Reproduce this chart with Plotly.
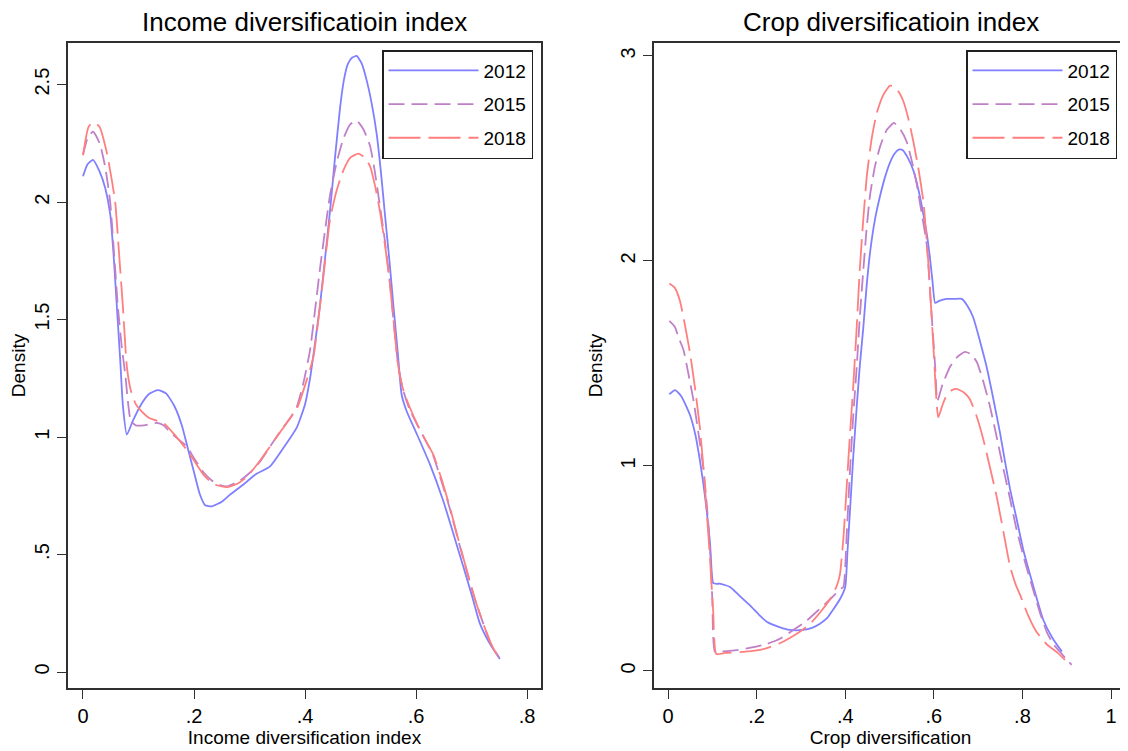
import plotly.graph_objects as go

# ---------------- data ----------------
years = ["2012", "2015", "2018"]

inc_x_2012 = [0.0, 0.008, 0.018, 0.03, 0.04, 0.049, 0.055, 0.061, 0.067, 0.072, 0.079, 0.09, 0.105, 0.12, 0.135, 0.15, 0.165, 0.178, 0.189, 0.2, 0.21, 0.22, 0.232, 0.25, 0.265, 0.29, 0.31, 0.337, 0.36, 0.385, 0.40, 0.409, 0.418, 0.427, 0.436, 0.445, 0.454, 0.463, 0.47, 0.477, 0.485, 0.493, 0.502, 0.511, 0.52, 0.529, 0.537, 0.544, 0.552, 0.559, 0.567, 0.574, 0.583, 0.60, 0.625, 0.649, 0.667, 0.685, 0.70, 0.715, 0.733, 0.751]
inc_y_2012 = [2.11, 2.16, 2.18, 2.13, 2.06, 1.95, 1.78, 1.555, 1.33, 1.13, 1.01, 1.07, 1.14, 1.185, 1.20, 1.185, 1.13, 1.05, 0.95, 0.85, 0.76, 0.71, 0.705, 0.725, 0.755, 0.80, 0.84, 0.875, 0.95, 1.04, 1.14, 1.25, 1.40, 1.563, 1.76, 1.963, 2.19, 2.40, 2.52, 2.587, 2.615, 2.622, 2.59, 2.518, 2.42, 2.29, 2.12, 1.944, 1.75, 1.563, 1.36, 1.18, 1.11, 1.02, 0.884, 0.728, 0.59, 0.449, 0.33, 0.206, 0.12, 0.055]

inc_x_2015 = [0.0, 0.008, 0.018, 0.03, 0.04, 0.049, 0.056, 0.063, 0.07, 0.076, 0.081, 0.086, 0.095, 0.11, 0.133, 0.145, 0.157, 0.172, 0.187, 0.2, 0.217, 0.232, 0.247, 0.26, 0.283, 0.301, 0.319, 0.337, 0.355, 0.37, 0.385, 0.397, 0.409, 0.418, 0.427, 0.436, 0.445, 0.457, 0.469, 0.481, 0.493, 0.505, 0.517, 0.525, 0.532, 0.543, 0.553, 0.56, 0.568, 0.577, 0.588, 0.601, 0.616, 0.631, 0.646, 0.661, 0.676, 0.691, 0.706, 0.721, 0.735, 0.75]
inc_y_2015 = [2.20, 2.27, 2.30, 2.25, 2.15, 2.0, 1.78, 1.55, 1.38, 1.27, 1.15, 1.07, 1.05, 1.05, 1.06, 1.05, 1.02, 0.99, 0.96, 0.91, 0.85, 0.815, 0.795, 0.79, 0.815, 0.849, 0.896, 0.96, 1.023, 1.07, 1.128, 1.23, 1.37, 1.54, 1.718, 1.88, 2.03, 2.17, 2.27, 2.33, 2.347, 2.31, 2.24, 2.14, 2.03, 1.85, 1.65, 1.48, 1.30, 1.197, 1.12, 1.057, 0.99, 0.92, 0.81, 0.694, 0.56, 0.432, 0.31, 0.206, 0.12, 0.06]

inc_x_2018 = [0.0, 0.01, 0.019, 0.03, 0.042, 0.05, 0.058, 0.065, 0.072, 0.079, 0.086, 0.095, 0.103, 0.12, 0.145, 0.165, 0.187, 0.2, 0.217, 0.235, 0.259, 0.277, 0.295, 0.319, 0.337, 0.355, 0.37, 0.385, 0.40, 0.415, 0.424, 0.433, 0.445, 0.457, 0.469, 0.482, 0.496, 0.507, 0.517, 0.526, 0.535, 0.545, 0.553, 0.56, 0.568, 0.577, 0.588, 0.601, 0.616, 0.631, 0.646, 0.661, 0.676, 0.691, 0.706, 0.721, 0.735, 0.75]
inc_y_2018 = [2.20, 2.32, 2.34, 2.32, 2.22, 2.12, 2.0, 1.78, 1.55, 1.30, 1.20, 1.14, 1.116, 1.08, 1.06, 1.01, 0.945, 0.90, 0.84, 0.80, 0.787, 0.80, 0.83, 0.90, 0.96, 1.02, 1.07, 1.12, 1.22, 1.34, 1.50, 1.684, 1.927, 2.05, 2.135, 2.19, 2.206, 2.19, 2.153, 2.07, 1.96, 1.80, 1.65, 1.48, 1.30, 1.20, 1.13, 1.06, 0.99, 0.925, 0.82, 0.70, 0.565, 0.435, 0.31, 0.206, 0.12, 0.055]

crop_x_2012 = [0.003, 0.016, 0.03, 0.05, 0.062, 0.072, 0.08, 0.087, 0.095, 0.102, 0.11, 0.117, 0.14, 0.16, 0.185, 0.205, 0.223, 0.25, 0.275, 0.305, 0.325, 0.343, 0.36, 0.373, 0.388, 0.40, 0.405, 0.411, 0.418, 0.426, 0.433, 0.441, 0.448, 0.456, 0.467, 0.479, 0.49, 0.501, 0.512, 0.522, 0.53, 0.542, 0.554, 0.566, 0.577, 0.585, 0.591, 0.597, 0.603, 0.612, 0.629, 0.645, 0.663, 0.676, 0.689, 0.704, 0.719, 0.734, 0.749, 0.76, 0.772, 0.787, 0.802, 0.825, 0.847, 0.868, 0.889]
crop_y_2012 = [1.35, 1.37, 1.34, 1.246, 1.15, 1.027, 0.91, 0.79, 0.62, 0.43, 0.425, 0.426, 0.41, 0.37, 0.32, 0.275, 0.24, 0.215, 0.20, 0.20, 0.21, 0.23, 0.26, 0.30, 0.35, 0.41, 0.58, 0.79, 1.04, 1.29, 1.49, 1.68, 1.87, 2.04, 2.20, 2.32, 2.41, 2.48, 2.525, 2.544, 2.54, 2.50, 2.44, 2.34, 2.22, 2.12, 2.02, 1.90, 1.795, 1.805, 1.815, 1.815, 1.815, 1.78, 1.724, 1.61, 1.485, 1.33, 1.166, 1.03, 0.888, 0.74, 0.59, 0.41, 0.25, 0.16, 0.095]

crop_x_2015 = [0.003, 0.015, 0.025, 0.035, 0.046, 0.057, 0.068, 0.08, 0.088, 0.095, 0.1, 0.106, 0.12, 0.155, 0.19, 0.223, 0.255, 0.283, 0.31, 0.336, 0.366, 0.39, 0.396, 0.403, 0.411, 0.418, 0.426, 0.433, 0.441, 0.448, 0.456, 0.467, 0.479, 0.494, 0.51, 0.525, 0.539, 0.55, 0.561, 0.572, 0.584, 0.593, 0.603, 0.608, 0.62, 0.637, 0.652, 0.670, 0.684, 0.697, 0.712, 0.727, 0.742, 0.757, 0.772, 0.787, 0.806, 0.825, 0.84, 0.855, 0.87, 0.885, 0.898, 0.911]
crop_y_2015 = [1.708, 1.68, 1.62, 1.566, 1.45, 1.327, 1.17, 0.987, 0.80, 0.59, 0.35, 0.093, 0.095, 0.102, 0.115, 0.132, 0.16, 0.20, 0.24, 0.29, 0.35, 0.40, 0.41, 0.65, 0.987, 1.24, 1.485, 1.73, 1.96, 2.15, 2.32, 2.46, 2.56, 2.64, 2.673, 2.64, 2.58, 2.49, 2.38, 2.24, 2.08, 1.80, 1.485, 1.317, 1.40, 1.485, 1.53, 1.556, 1.545, 1.507, 1.41, 1.288, 1.14, 0.987, 0.84, 0.688, 0.53, 0.39, 0.28, 0.19, 0.13, 0.093, 0.06, 0.03]

crop_x_2018 = [0.003, 0.015, 0.027, 0.038, 0.05, 0.061, 0.072, 0.08, 0.087, 0.095, 0.102, 0.109, 0.13, 0.17, 0.2, 0.223, 0.25, 0.275, 0.3, 0.321, 0.345, 0.366, 0.38, 0.388, 0.396, 0.403, 0.41, 0.418, 0.426, 0.433, 0.441, 0.449, 0.46, 0.471, 0.486, 0.501, 0.512, 0.522, 0.531, 0.543, 0.554, 0.566, 0.577, 0.588, 0.599, 0.610, 0.62, 0.629, 0.641, 0.651, 0.667, 0.681, 0.697, 0.712, 0.727, 0.742, 0.757, 0.772, 0.785, 0.795, 0.813, 0.832, 0.855, 0.877, 0.896]
crop_y_2018 = [1.89, 1.87, 1.805, 1.69, 1.546, 1.38, 1.186, 0.99, 0.79, 0.54, 0.29, 0.083, 0.088, 0.093, 0.10, 0.112, 0.133, 0.161, 0.195, 0.23, 0.29, 0.351, 0.41, 0.47, 0.65, 0.888, 1.13, 1.385, 1.68, 1.963, 2.21, 2.42, 2.60, 2.72, 2.81, 2.855, 2.85, 2.82, 2.78, 2.69, 2.58, 2.44, 2.28, 1.98, 1.585, 1.237, 1.30, 1.346, 1.37, 1.376, 1.36, 1.327, 1.24, 1.127, 0.99, 0.849, 0.68, 0.51, 0.42, 0.37, 0.27, 0.19, 0.13, 0.093, 0.054]

inc_xticks = [0, 0.2, 0.4, 0.6, 0.8]
inc_xtext = ["0", ".2", ".4", ".6", ".8"]
inc_yticks = [0, 0.5, 1, 1.5, 2, 2.5]
inc_ytext = ["0", ".5", "1", "1.5", "2", "2.5"]
crop_xticks = [0, 0.2, 0.4, 0.6, 0.8, 1]
crop_xtext = ["0", ".2", ".4", ".6", ".8", "1"]
crop_yticks = [0, 1, 2, 3]
crop_ytext = ["0", "1", "2", "3"]

# ---------------- style ----------------
FONT = "Liberation Sans, Arial, sans-serif"
colors = ["#7F7FFF", "#C080C8", "#FF7F7F"]
dashes = ["solid", "16px,7px", "32px,8px"]

# the page body has an 8px margin: the figure starts at (8, 8) of the window
OFF = 8
W, H = 1120, 743


def fx(p):
    return (p - OFF) / W


def fy(p):
    return 1 - (p - OFF) / H


fig = go.Figure()

inc_series = [(inc_x_2012, inc_y_2012), (inc_x_2015, inc_y_2015), (inc_x_2018, inc_y_2018)]
crop_series = [(crop_x_2012, crop_y_2012), (crop_x_2015, crop_y_2015), (crop_x_2018, crop_y_2018)]

for i, (xs, ys) in enumerate(inc_series):
    fig.add_trace(go.Scatter(x=xs, y=ys, mode="lines", name=years[i],
                             line=dict(color=colors[i], width=1.8, dash=dashes[i],
                                       shape="spline", smoothing=0.5),
                             xaxis="x", yaxis="y", legend="legend",
                             legendgroup="a" + years[i]))
for i, (xs, ys) in enumerate(crop_series):
    fig.add_trace(go.Scatter(x=xs, y=ys, mode="lines", name=years[i],
                             line=dict(color=colors[i], width=1.8, dash=dashes[i],
                                       shape="spline", smoothing=0.5),
                             xaxis="x2", yaxis="y2", legend="legend2",
                             legendgroup="b" + years[i]))

ydom = [fy(688), fy(43)]
axis_common = dict(showline=True, mirror=True, linecolor="#303030", linewidth=1.6,
                   ticks="outside", ticklen=9, tickwidth=1.3, tickcolor="#303030",
                   showgrid=False, zeroline=False, automargin=False,
                   tickfont=dict(family=FONT, size=20, color="black"))
tfont = dict(family=FONT, size=19, color="black")

legend_common = dict(font=dict(family=FONT, size=19, color="black"),
                     bgcolor="white", bordercolor="#202020", borderwidth=1.5,
                     itemwidth=90, tracegroupgap=6, xanchor="right", yanchor="top",
                     itemclick=False, itemdoubleclick=False)

fig.update_layout(
    width=W, height=H,
    margin=dict(l=0, r=0, t=0, b=0),
    paper_bgcolor="white", plot_bgcolor="white",
    xaxis=dict(domain=[fx(68), fx(541)], range=[-0.027, 0.825], anchor="y",
               tickvals=inc_xticks, ticktext=inc_xtext,
               title=dict(text="Income diversification index", standoff=2, font=tfont),
               **axis_common),
    yaxis=dict(domain=ydom, range=[-0.068, 2.677], anchor="x",
               tickvals=inc_yticks, ticktext=inc_ytext, tickangle=-90,
               title=dict(text="Density", standoff=10, font=tfont),
               **axis_common),
    xaxis2=dict(domain=[fx(654), fx(1127)], range=[-0.0316, 1.036], anchor="y2",
                tickvals=crop_xticks, ticktext=crop_xtext,
                title=dict(text="Crop diversification", standoff=2, font=tfont),
                **axis_common),
    yaxis2=dict(domain=ydom, range=[-0.083, 3.063], anchor="x2",
                tickvals=crop_yticks, ticktext=crop_ytext, tickangle=-90,
                title=dict(text="Density", standoff=10, font=tfont),
                **axis_common),
    legend=dict(x=fx(533), y=fy(50), **legend_common),
    legend2=dict(x=fx(1117), y=fy(50), **legend_common),
    annotations=[
        dict(text="Income diversificatioin index", x=fx((68 + 541) / 2), y=fy(22),
             xref="paper", yref="paper", showarrow=False, xanchor="center", yanchor="middle",
             font=dict(family=FONT, size=26, color="black")),
        dict(text="Crop diversificatioin index", x=fx((654 + 1127) / 2), y=fy(22),
             xref="paper", yref="paper", showarrow=False, xanchor="center", yanchor="middle",
             font=dict(family=FONT, size=26, color="black")),
    ],
)

fig.write_html("out.html")
